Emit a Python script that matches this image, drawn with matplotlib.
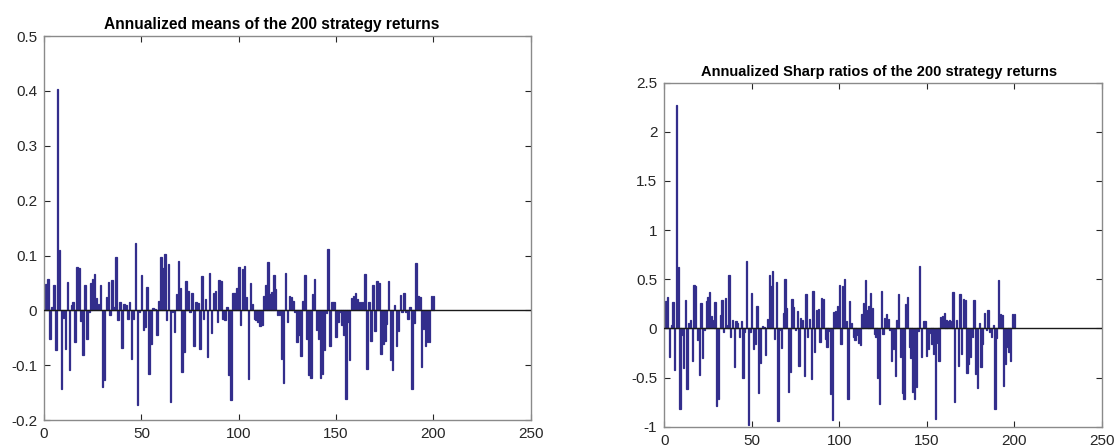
from matplotlib import pyplot as plt
import numpy as np

plt.rcParams['font.family'] = ['Liberation Sans', 'DejaVu Sans']

# annualized means of the strategy returns, strategies 1..200
means = [
    0.048, 0.058, -0.052, 0.006, 0.047, -0.073, 0.403, 0.111, -0.144, -0.014,
    -0.071, 0.052, -0.109, 0.010, 0.016, -0.058, 0.080, 0.077, -0.020, -0.082,
    0.047, -0.053, -0.003, 0.050, 0.058, 0.067, 0.022, 0.012, 0.047, -0.139,
    -0.127, 0.024, 0.052, -0.008, 0.056, 0.006, 0.097, -0.018, 0.016, -0.068,
    0.012, 0.010, -0.016, 0.016, -0.089, -0.015, 0.123, -0.173, -0.003, 0.065,
    -0.036, -0.030, 0.042, -0.115, -0.061, 0.004, 0.002,
    -0.045, 0.018, 0.098, 0.077, 0.103, -0.018, 0.084, -0.167, -0.003, -0.039,
    0.030, 0.090, 0.041, -0.113, -0.076, 0.054, 0.036, -0.003, 0.032, -0.065,
    0.016, 0.014, -0.071, 0.062, -0.015, 0.020, -0.085, 0.068, -0.041, 0.032,
    0.035, -0.022, 0.056, 0.053, -0.016, -0.018, 0.006, -0.118, -0.164, 0.032,
    0.032, 0.041, 0.079, -0.027, 0.076, 0.081, 0.024, -0.125, 0.050, 0.012,
    -0.015, -0.018, -0.021, -0.028, -0.027, 0.027,
    0.047, 0.088, 0.030, 0.033, 0.065, 0.039, -0.008, -0.009, -0.089, -0.132,
    0.068, -0.021, 0.027, 0.024, 0.018, -0.003, -0.058, -0.045, -0.084, 0.018,
    0.065, -0.052, -0.118, -0.124, 0.030, 0.058, -0.035, -0.052, -0.123, -0.115,
    -0.073, -0.004, 0.112, -0.064, 0.015, 0.015, -0.048, -0.021, -0.003, -0.027,
    -0.045, -0.162, -0.021, -0.091, 0.022, 0.027, 0.032, 0.021, 0.016, 0.016,
    0.016, 0.067, -0.106,
    0.015, -0.056, 0.047, -0.038, 0.054, 0.050, -0.079, -0.061, -0.055, -0.024,
    0.053, -0.090, -0.109, 0.010, -0.064, -0.038, 0.029, -0.003, 0.032, -0.003,
    -0.015, 0.006, -0.144, -0.023, 0.087, 0.027, 0.025, -0.103, -0.033, -0.064,
    -0.058, -0.058, 0.027, 0.026,
]

# annualized Sharpe ratios, same strategies
sharpe = [
    0.28, 0.32, -0.29, 0.03, 0.27, -0.42, 2.27, 0.625, -0.82, -0.07,
    -0.40, 0.29, -0.62, 0.05, 0.09, -0.33, 0.44, 0.43, -0.12, -0.47,
    0.26, -0.30, -0.02, 0.28, 0.32, 0.37, 0.13, 0.09, 0.27, -0.79,
    -0.72, 0.14, 0.29, -0.04, 0.31, 0.03, 0.54, -0.09, 0.09, -0.39,
    0.08, 0.06, -0.09, 0.08, -0.50, -0.04, 0.69, -0.98, -0.04, 0.36,
    -0.21, -0.16, 0.23, -0.66, -0.35, 0.02, 0.01, -0.27, 0.10, 0.54,
    0.43, 0.58, -0.11, 0.47, -0.94, -0.02, -0.20, 0.16, 0.50, 0.21,
    -0.65, -0.44, 0.30, 0.22, -0.02, 0.18, -0.38, 0.11, 0.09, -0.48,
    0.35, -0.09, 0.10, -0.51, 0.38, -0.24, 0.19, 0.20, -0.14, 0.31,
    0.30, -0.11, -0.19, -0.03, -0.67, -0.93, 0.17, 0.18, 0.23, 0.44,
    -0.16, 0.43, 0.50, 0.08, -0.72, 0.28, 0.06, -0.09, -0.12, -0.07,
    -0.15, -0.17, 0.15, 0.26, 0.49, 0.19, 0.23, 0.36, 0.21, -0.06,
    -0.09, -0.50, -0.77, 0.38, -0.06, 0.11, 0.15, 0.10, -0.02, -0.33,
    -0.21, -0.48, 0.09, 0.35, -0.29, -0.66, -0.72, 0.25, 0.32, -0.19,
    -0.30, -0.65, -0.72, -0.60, -0.03, 0.63, -0.29, 0.08, 0.08, -0.28,
    -0.21, -0.05, -0.16, -0.26, -0.92, -0.15, -0.33, 0.12, 0.13, 0.16,
    0.09, 0.08, 0.09, 0.08, 0.37, -0.75, 0.09, -0.38, 0.35, -0.26,
    0.30, 0.29, -0.45, -0.36, -0.29, -0.09, 0.29, -0.46, -0.61, 0.05,
    -0.39, -0.16, 0.16, -0.02, 0.19, -0.04, -0.09, 0.03, -0.82, -0.10,
    0.49, 0.15, 0.14, -0.59, -0.36, -0.19, -0.24, -0.33, 0.15, 0.15,
]

titles = ["Annualized means of the 200 strategy returns",
          "Annualized Sharp ratios of the 200 strategy returns"]
mean_ticks = [-0.2, -0.1, 0, 0.1, 0.2, 0.3, 0.4, 0.5]
sharpe_ticks = [-1, -0.5, 0, 0.5, 1, 1.5, 2, 2.5]
x_ticks = [0, 50, 100, 150, 200, 250]

bar_color = '#332e8c'
text_color = '#262626'
box_color = '#8a8a8a'


def style_axes(ax, yticks, title, title_size, title_x):
    ax.set_xlim(0, 250)
    ax.set_ylim(yticks[0], yticks[-1])
    ax.set_xticks(x_ticks)
    ax.set_yticks(yticks)
    ax.set_xticklabels([str(t) for t in x_ticks])
    ax.set_yticklabels(['%g' % t for t in yticks])
    ax.tick_params(direction='in', top=True, right=True, length=4,
                   width=0.8, color=text_color, labelsize=11,
                   labelcolor=text_color, pad=5)
    for s in ax.spines.values():
        s.set_color(box_color)
        s.set_linewidth(1.0)
    ax.axhline(0, color='#1a1a1a', linewidth=1.0, zorder=3)
    ax.set_title(title, fontsize=title_size, fontweight='bold', color='black',
                 pad=5, x=title_x)


fig = plt.figure(figsize=(11.15, 4.46), dpi=100)
ax1 = fig.add_axes([0.0395, 0.058, 0.4365, 0.861])
ax2 = fig.add_axes([0.5957, 0.0433, 0.3924, 0.7713])

idx = np.arange(1, len(means) + 1)
ax1.bar(idx, means, width=0.8, color=bar_color, edgecolor=bar_color, linewidth=0.9)
style_axes(ax1, mean_ticks, titles[0], 11.2, 0.467)

idx2 = np.arange(1, len(sharpe) + 1)
ax2.bar(idx2, sharpe, width=0.8, color=bar_color, edgecolor=bar_color, linewidth=0.9)
style_axes(ax2, sharpe_ticks, titles[1], 10.5, 0.492)

fig.savefig('out.png', dpi=100)
